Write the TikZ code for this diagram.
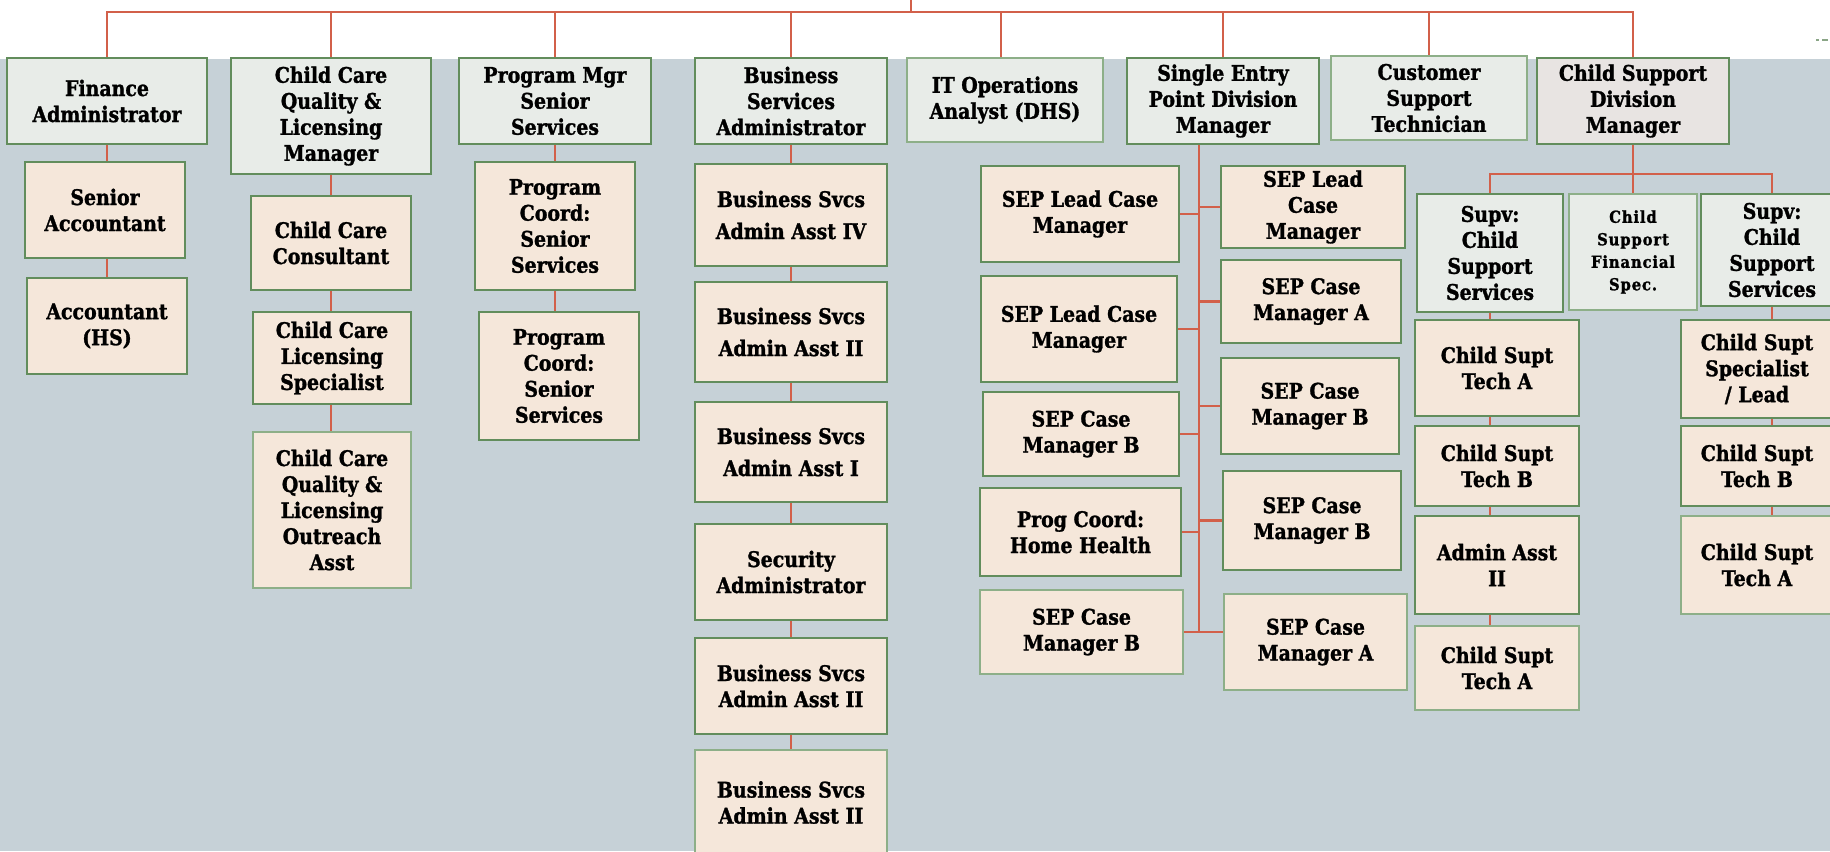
\documentclass[tikz,border=0pt]{standalone}
\usepackage{fontspec}
\setmainfont{DejaVu Serif}[FakeStretch=0.88, BoldFeatures={FakeBold=1.3}]
\newfontfamily\specfont{DejaVu Serif}[FakeStretch=0.9, LetterSpace=5, BoldFeatures={FakeBold=1.3}]
\definecolor{bgc}{HTML}{C6D1D7}
\definecolor{hdrc}{HTML}{E8ECE8}
\definecolor{csdmc}{HTML}{E8E4E2}
\definecolor{subc}{HTML}{F5E7DA}
\definecolor{bordc}{HTML}{628D5C}
\definecolor{bordl}{HTML}{8DAF88}
\definecolor{linec}{HTML}{D2604A}
\tikzset{
  box/.style={draw=bordc, line width=2.4pt, inner sep=0pt, align=center,
    font=\bfseries\fontsize{21.5}{26}\selectfont},
  hdr/.style={box, fill=hdrc},
  sub/.style={box, fill=subc},
  light/.style={draw=bordl},
  spaced/.style={font=\bfseries\fontsize{21.5}{32}\selectfont},
  conn/.style={draw=linec, line width=2.2pt},
}
\newcommand\orgbox[7]{%
  \node[#1, minimum width={#5-#3}, minimum height={#6-#4}] (#2)
    at ({(#3+#5)/2},{(#4+#6)/2}) {#7};}
\begin{document}
\begin{tikzpicture}[x=1pt,y=-1pt]
\useasboundingbox (0,0) rectangle (1830,851);
\begin{scope}
\clip (0,0) rectangle (1830,851);
\fill[white] (0,0) rectangle (1830,851);
\fill[bgc] (0,59) rectangle (1830,851);
\draw[color=bordl!80!gray, line width=2.5pt] (1816,40) -- (1819,40) (1822,40) -- (1828,40);

% Finance column
\orgbox{hdr}{fin}{7}{58}{207}{144}{Finance\\Administrator}
\orgbox{sub}{sracct}{25}{162}{185}{258}{Senior\\Accountant}
\orgbox{sub}{acct}{27}{278}{187}{374}{Accountant\\(HS)}

% Child care column
\orgbox{hdr}{ccql}{231}{58}{431}{174}{Child Care\\Quality \&\\Licensing\\Manager}
\orgbox{sub}{ccc}{251}{196}{411}{290}{Child Care\\Consultant}
\orgbox{sub}{cclic}{253}{312}{411}{404}{Child Care\\Licensing\\Specialist}
\orgbox{sub,light}{ccout}{253}{432}{411}{588}{Child Care\\Quality \&\\Licensing\\Outreach\\Asst}

% Program column
\orgbox{hdr}{pm}{459}{58}{651}{144}{Program Mgr\\Senior\\Services}
\orgbox{sub}{pc1}{475}{162}{635}{290}{Program\\Coord:\\Senior\\Services}
\orgbox{sub}{pc2}{479}{312}{639}{440}{Program\\Coord:\\Senior\\Services}

% Business column
\orgbox{hdr}{bsa}{695}{58}{887}{144}{Business\\Services\\Administrator}
\orgbox{sub,spaced}{b1}{695}{164}{887}{266}{Business Svcs\\Admin Asst IV}
\orgbox{sub,spaced}{b2}{695}{282}{887}{382}{Business Svcs\\Admin Asst II}
\orgbox{sub,spaced}{b3}{695}{402}{887}{502}{Business Svcs\\Admin Asst I}
\orgbox{sub}{b4}{695}{524}{887}{620}{Security\\Administrator}
\orgbox{sub}{b5}{695}{638}{887}{734}{Business Svcs\\Admin Asst II}
\orgbox{sub,light}{b6}{695}{750}{887}{855}{Business Svcs\\Admin Asst II}

% IT
\orgbox{hdr,light}{it}{907}{58}{1103}{142}{IT Operations\\Analyst (DHS)}

% SEP
\orgbox{hdr}{sep}{1127}{58}{1319}{144}{Single Entry\\Point Division\\Manager}
\orgbox{sub}{L1}{981}{166}{1179}{262}{SEP Lead Case\\Manager}
\orgbox{sub}{L2}{981}{276}{1177}{382}{SEP Lead Case\\Manager}
\orgbox{sub}{L3}{983}{392}{1179}{476}{SEP Case\\Manager B}
\orgbox{sub}{L4}{980}{488}{1181}{576}{Prog Coord:\\Home Health}
\orgbox{sub,light}{L5}{980}{590}{1183}{674}{SEP Case\\Manager B}
\orgbox{sub}{R1}{1221}{166}{1405}{248}{SEP Lead\\Case\\Manager}
\orgbox{sub}{R2}{1221}{260}{1401}{343}{SEP Case\\Manager A}
\orgbox{sub}{R3}{1221}{358}{1399}{454}{SEP Case\\Manager B}
\orgbox{sub}{R4}{1223}{471}{1401}{570}{SEP Case\\Manager B}
\orgbox{sub,light}{R5}{1224}{594}{1407}{690}{SEP Case\\Manager A}

% Customer support
\orgbox{hdr,light}{cst}{1331}{56}{1527}{140}{Customer\\Support\\Technician}

% Child support
\orgbox{box,fill=csdmc}{csdm}{1537}{58}{1729}{144}{Child Support\\Division\\Manager}
\orgbox{hdr}{supvL}{1417}{194}{1563}{312}{Supv:\\Child\\Support\\Services}
\orgbox{hdr,light,font=\specfont\bfseries\fontsize{16.5}{22.5}\selectfont}{fspec}{1569}{194}{1697}{310}{Child\\Support\\Financial\\Spec.}
\orgbox{hdr}{supvR}{1701}{194}{1843}{306}{Supv:\\Child\\Support\\Services}
\orgbox{sub}{csL1}{1415}{320}{1579}{416}{Child Supt\\Tech A}
\orgbox{sub}{csL2}{1415}{426}{1579}{506}{Child Supt\\Tech B}
\orgbox{sub}{csL3}{1415}{516}{1579}{614}{Admin Asst\\II}
\orgbox{sub,light}{csL4}{1415}{626}{1579}{710}{Child Supt\\Tech A}
\orgbox{sub}{csR1}{1681}{320}{1833}{418}{Child Supt\\Specialist\\/ Lead}
\orgbox{sub}{csR2}{1681}{426}{1833}{506}{Child Supt\\Tech B}
\orgbox{sub,light}{csR3}{1681}{516}{1833}{614}{Child Supt\\Tech A}

% ---------- connectors ----------
\coordinate (bus) at (0,12);
\coordinate (root) at (911,0);
\draw[conn] (root) -- (root |- bus);
\draw[conn] (fin.north) -- (fin.north |- bus) -| (csdm.north);
\foreach \n in {ccql,pm,bsa,sep,cst}
  \draw[conn] (\n.north) -- (\n.north |- bus);
\draw[conn] ([xshift=-4pt]it.north) -- ([xshift=-4pt]it.north |- bus);

\draw[conn] (fin.south) -- (fin.south |- sracct.north);
\draw[conn] (sracct.south -| fin) -- (acct.north -| fin);

\draw[conn] (ccql.south) -- (ccql.south |- ccc.north);
\draw[conn] (ccc.south -| ccql) -- (cclic.north -| ccql);
\draw[conn] (cclic.south -| ccql) -- (ccout.north -| ccql);

\draw[conn] (pm.south) -- (pm.south |- pc1.north);
\draw[conn] (pc1.south -| pm) -- (pc2.north -| pm);

\draw[conn] (bsa.south) -- (b1.north);
\draw[conn] (b1.south) -- (b2.north);
\draw[conn] (b2.south) -- (b3.north);
\draw[conn] (b3.south) -- (b4.north);
\draw[conn] (b4.south) -- (b5.north);
\draw[conn] (b5.south) -- (b6.north);

\coordinate (spine) at ([xshift=-24pt]sep.south);
\draw[conn] (spine) -- (spine |- L5.east);
\foreach \n in {L1,L2,L3,L4}
  \draw[conn] (\n.east) -- (\n.east -| spine);
\foreach \n in {R1,R2,R3,R4}
  \draw[conn] (\n.west) -- (\n.west -| spine);
\draw[conn] (L5.east) -- (L5.east -| R5.west);

\coordinate (csbar) at (0,174);
\draw[conn] (csdm.south) -- (fspec.north);
\draw[conn] (supvL.north) -- (supvL.north |- csbar) -- (supvR.north |- csbar) -- (supvR.north);
\draw[conn] (supvL.south) -- (supvL.south |- csL1.north);
\draw[conn] (csL1.south -| supvL) -- (csL2.north -| supvL);
\draw[conn] (csL2.south -| supvL) -- (csL3.north -| supvL);
\draw[conn] (csL3.south -| supvL) -- (csL4.north -| supvL);
\draw[conn] (supvR.south) -- (supvR.south |- csR1.north);
\draw[conn] (csR1.south -| supvR) -- (csR2.north -| supvR);
\draw[conn] (csR2.south -| supvR) -- (csR3.north -| supvR);
\end{scope}
\end{tikzpicture}
\end{document}
